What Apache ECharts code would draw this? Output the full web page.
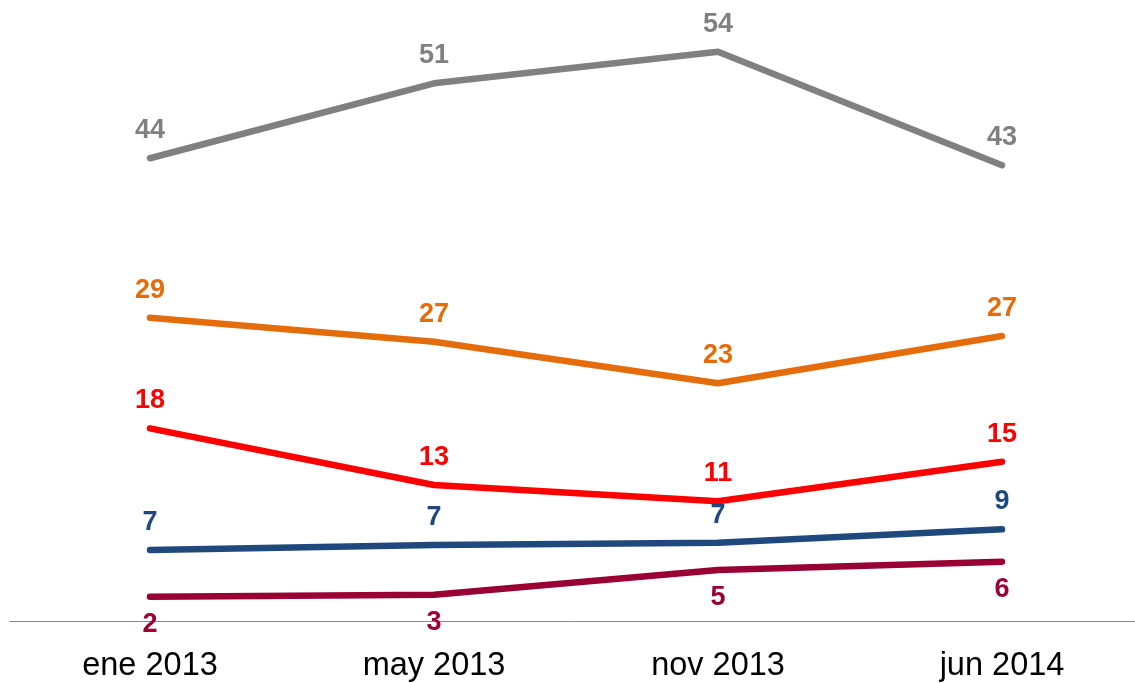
<!DOCTYPE html>
<html>
<head>
<meta charset="utf-8">
<script src="https://cdn.jsdelivr.net/npm/echarts@6/dist/echarts.min.js"></script>
<style>
html,body{margin:0;padding:0;background:#fff;}
#chart{width:1135px;height:683px;}
</style>
</head>
<body>
<div id="chart"></div>
<script>
const categories = ['ene 2013', 'may 2013', 'nov 2013', 'jun 2014'];
const grayValues   = [44.07, 51.21, 54.22, 43.4];
const orangeValues = [28.89, 26.6, 22.64, 27.14];
const redValues    = [18.35, 12.95, 11.4, 15.17];
const blueValues   = [6.76, 7.24, 7.46, 8.73];
const maroonValues = [2.31, 2.5, 4.86, 5.65];

const FONT = 'Liberation Sans, Arial, sans-serif';

function mkSeries(name, data, color, pos) {
  return {
    name: name,
    type: 'line',
    xAxisIndex: 0,
    yAxisIndex: 0,
    data: data,
    symbol: 'circle',
    symbolSize: 0,
    showSymbol: true,
    lineStyle: { color: color, width: 6.5, cap: 'round', join: 'round' },
    itemStyle: { color: color },
    label: {
      show: true,
      position: pos,
      distance: 14,
      color: color,
      fontFamily: FONT,
      fontWeight: 'bold',
      fontSize: 27,
      formatter: p => Math.round(p.value)
    },
    emphasis: { disabled: true }
  };
}

const chart = echarts.init(document.getElementById('chart'), null, { renderer: 'canvas' });
chart.setOption({
  animation: false,
  backgroundColor: '#ffffff',
  grid: [
    { left: 150, right: 133, top: 1.5, bottom: 62, containLabel: false },
    { left: 10, right: 0, top: 1.5, bottom: 62, containLabel: false }
  ],
  xAxis: [
    {
      gridIndex: 0,
      type: 'category',
      data: categories,
      boundaryGap: false,
      axisLine: { show: false },
      axisTick: { show: false },
      splitLine: { show: false },
      axisLabel: { color: '#000000', fontFamily: FONT, fontSize: 32.5, margin: 29 }
    },
    {
      gridIndex: 1,
      type: 'value',
      min: 0,
      max: 1,
      axisLine: { show: true, lineStyle: { color: '#888888', width: 1 } },
      axisTick: { show: false },
      axisLabel: { show: false },
      splitLine: { show: false }
    }
  ],
  yAxis: [
    { gridIndex: 0, type: 'value', min: 0, max: 59, show: false, splitLine: { show: false } },
    { gridIndex: 1, type: 'value', min: 0, max: 1, show: false, splitLine: { show: false } }
  ],
  series: [
    mkSeries('gray', grayValues, '#808080', 'top'),
    mkSeries('orange', orangeValues, '#E46C0A', 'top'),
    mkSeries('red', redValues, '#FF0000', 'top'),
    mkSeries('blue', blueValues, '#1F497D', 'top'),
    mkSeries('maroon', maroonValues, '#990033', 'bottom')
  ]
});
</script>
</body>
</html>
